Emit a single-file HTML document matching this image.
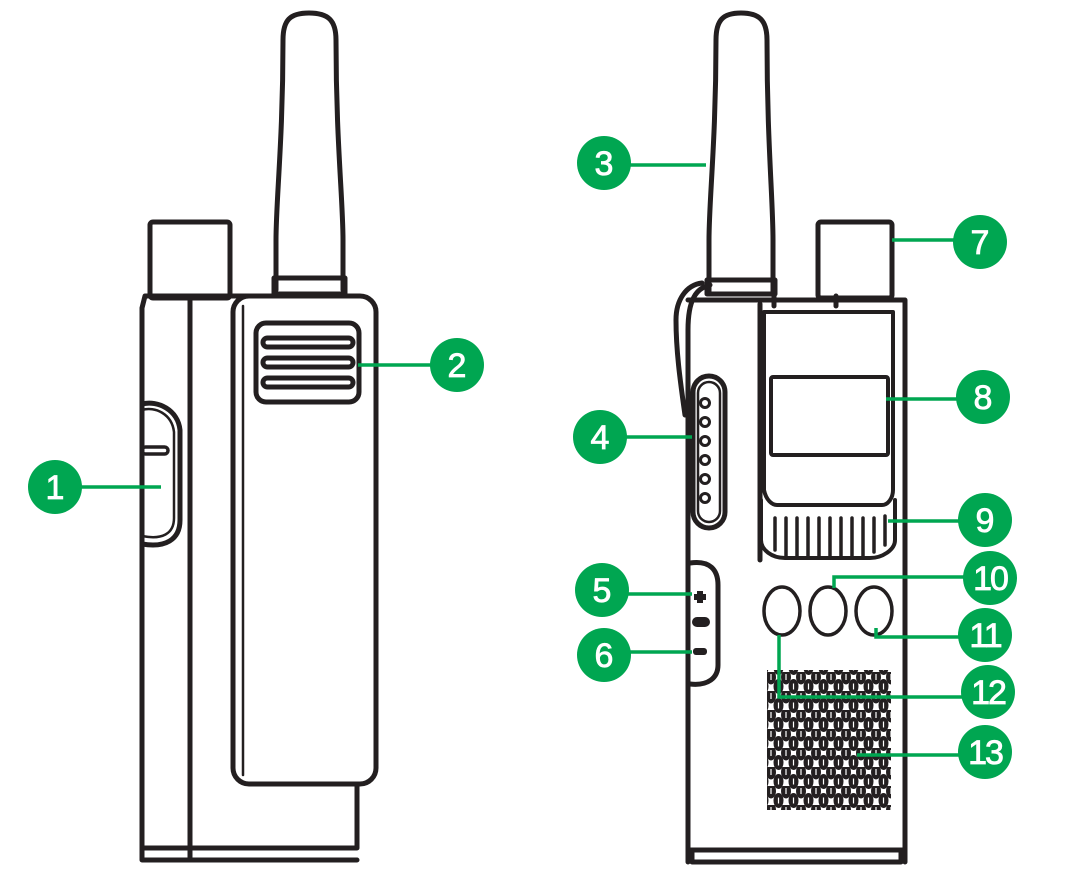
<!DOCTYPE html>
<html><head><style>html,body{margin:0;padding:0;background:#fff;width:1092px;height:892px;overflow:hidden}</style></head>
<body>
<svg width="1092" height="892" viewBox="0 0 1092 892" xmlns="http://www.w3.org/2000/svg">
<defs>
<pattern id="spk" x="767" y="672" width="15" height="19" patternUnits="userSpaceOnUse">
<ellipse cx="4" cy="5" rx="5" ry="7.5" fill="#231f20"/>
<ellipse cx="11.5" cy="14.5" rx="5" ry="7.5" fill="#231f20"/>
<ellipse cx="11.5" cy="-4.5" rx="5" ry="7.5" fill="#231f20"/>
<ellipse cx="-3.5" cy="14.5" rx="5" ry="7.5" fill="#231f20"/>
<ellipse cx="19" cy="5" rx="5" ry="7.5" fill="#231f20"/>
<rect x="3.4" y="2" width="1.2" height="6" fill="#fff"/>
<rect x="10.9" y="11.5" width="1.2" height="6" fill="#fff"/>
</pattern>
</defs>
<g fill="none" stroke="#231f20" stroke-width="5" stroke-linejoin="round" stroke-linecap="round">
<path d="M276 290 L276 240 C276 200 283 140 283 40 C283 20 290 13 309 13 C328 13 336 20 336 40 C336 140 343 200 343 240 L343 290"/>
<rect x="274" y="278" width="71" height="16"/>
<rect x="150" y="222" width="80" height="76" rx="3"/>
<path d="M142 860 L142 308 L145 296 L280 296 M190 300 L190 860 M142 848 L357 848 L357 785 M142 860 L357 860"/>
<rect x="233" y="296" width="143" height="488" rx="16"/>
<path d="M243 306 L243 775" stroke-width="2.5"/>
<rect x="256" y="323" width="103" height="79" rx="10"/>
<rect x="263" y="338" width="90" height="9" rx="4.5"/>
<rect x="263" y="358" width="90" height="9" rx="4.5"/>
<rect x="263" y="378" width="90" height="9" rx="4.5"/>
<path d="M142 404 C158 400 178 410 180 430 L180 520 C180 540 165 548 142 544"/>
<path d="M142 410 C155 406 172 414 174 432 L174 518 C174 534 162 540 142 536" stroke-width="2.5"/>
<rect x="142" y="447" width="26" height="7" rx="3.5" stroke-width="3.5"/>

<path d="M709 292 L709 240 C709 200 716 140 716 40 C716 20 723 13 741 13 C759 13 767 20 767 40 C767 140 773 200 773 240 L773 292"/>
<rect x="707" y="280" width="68" height="14"/>
<rect x="818" y="222" width="74" height="76" rx="3"/>
<path d="M688 862 L688 330 C688 300 696 288 710 285 M688 300 L905 300 L905 862 M688 850 L905 850 M692 850 L692 862 L901 862 L901 850"/>
<path d="M685 415 C680 380 676 350 676 320 C676 300 686 285 702 283" stroke-width="5"/>
<path d="M760 304 L760 560"/>
<path d="M774 296 L774 306 M836 296 L836 306"/>
<path d="M764 312 L764 490 C766 500 772 505 777 505 L882 505 C888 505 893 498 893 490 L893 312 Z" stroke-width="4"/>
<rect x="771" y="377" width="117" height="78" rx="2" stroke-width="4"/>
<path d="M761 500 L761 540 C761 550 772 558 785 558 L870 558 C882 558 895 550 895 540 L895 500" stroke-width="4"/>
<path d="M775 518 L775 550 M786 518 L786 556 M797 518 L797 556 M808 518 L808 556 M819 518 L819 556 M830 518 L830 556 M841 518 L841 556 M852 518 L852 556 M863 518 L863 556 M874 518 L874 552 M885 516 L885 545" stroke-width="3.5"/>
<rect x="693" y="376" width="32" height="152" rx="16"/>
<rect x="698" y="382" width="22" height="140" rx="11" stroke-width="2.5"/>
<circle cx="705" cy="403" r="4.5" stroke-width="3"/>
<circle cx="705" cy="422" r="4.5" stroke-width="3"/>
<circle cx="705" cy="441" r="4.5" stroke-width="3"/>
<circle cx="705" cy="460" r="4.5" stroke-width="3"/>
<circle cx="705" cy="479" r="4.5" stroke-width="3"/>
<circle cx="705" cy="498" r="4.5" stroke-width="3"/>
<path d="M690 563 C710 560 718 570 718 585 L718 665 C718 678 708 686 690 684"/>
<ellipse cx="782" cy="611" rx="18" ry="24" stroke-width="3.5"/>
<ellipse cx="828" cy="611" rx="18" ry="24" stroke-width="3.5"/>
<ellipse cx="874" cy="611" rx="18" ry="24" stroke-width="3.5"/>
</g>
<g fill="#231f20">
<rect x="697" y="591" width="6" height="12"/><rect x="694" y="594" width="12" height="6"/>
<rect x="692" y="617" width="18" height="10" rx="5"/>
<rect x="693" y="648" width="14" height="7" rx="3"/>
</g>
<rect x="767" y="670" width="124" height="140" fill="url(#spk)"/>

<g fill="none" stroke="#00a651" stroke-width="3.5">
<path d="M55 487 L161 487"/>
<path d="M358 365 L457 365"/>
<path d="M604 165 L706 165"/>
<path d="M892 240 L980 240"/>
<path d="M886 399 L983 399"/>
<path d="M600 437 L692 437"/>
<path d="M888 521 L985 521"/>
<path d="M602 594 L692 594"/>
<path d="M604 652 L692 652"/>
<path d="M834 588 L834 577 L990 577"/>
<path d="M876 628 L876 637 L985 637"/>
<path d="M779 635 L779 697 L988 697"/>
<path d="M857 755 L985 755"/>
</g>
<g fill="#00a651">
<circle cx="55" cy="487" r="27"/><circle cx="457" cy="365" r="27"/>
<circle cx="604" cy="163" r="27"/><circle cx="980" cy="242" r="27"/>
<circle cx="983" cy="397" r="27"/><circle cx="600" cy="437" r="27"/>
<circle cx="985" cy="520" r="27"/><circle cx="602" cy="590" r="27"/>
<circle cx="604" cy="655" r="27"/><circle cx="990" cy="578" r="27"/>
<circle cx="985" cy="635" r="27"/><circle cx="988" cy="692" r="27"/>
<circle cx="985" cy="752" r="27"/>
</g>
<g fill="#fff" font-family="Liberation Sans, sans-serif" font-size="34" text-anchor="middle" stroke="#fff" stroke-width="0.8">
<text x="55" y="499">1</text><text x="457" y="377">2</text>
<text x="604" y="175">3</text><text x="980" y="254">7</text>
<text x="983" y="409">8</text><text x="600" y="449">4</text>
<text x="985" y="532">9</text><text x="602" y="602">5</text>
<text x="604" y="667">6</text><text x="990" y="590" letter-spacing="-2">10</text>
<text x="985" y="647" letter-spacing="-2">11</text><text x="988" y="704" letter-spacing="-2">12</text>
<text x="985" y="764" letter-spacing="-2">13</text>
</g>
</svg>
</body></html>
